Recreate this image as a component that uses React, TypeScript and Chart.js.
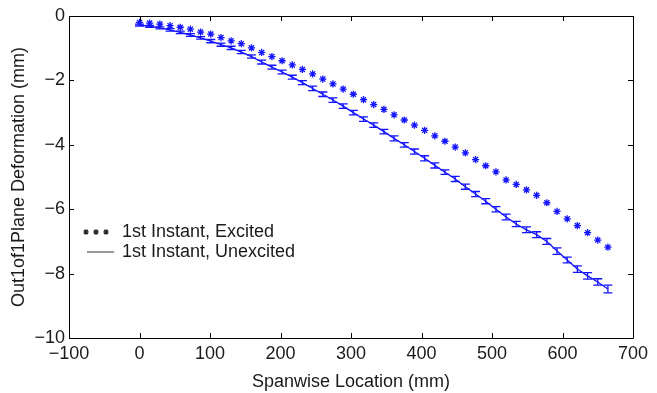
import React, { useEffect, useRef } from 'react';
import { Chart, registerables } from 'chart.js';

Chart.register(...registerables);

const spanwise = [
  0, 14.4, 28.9, 43.3, 57.8, 72.2, 86.7, 101.1, 115.6, 130, 144.4, 158.9, 173.3, 187.8, 202.2, 216.7,
  231.1, 245.6, 260, 274.4, 288.9, 303.3, 317.8, 332.2, 346.7, 361.1, 375.6, 390, 404.4, 418.9, 433.3,
  447.8, 462.2, 476.7, 491.1, 505.6, 520, 534.4, 548.9, 563.3, 577.8, 592.2, 606.7, 621.1, 635.6, 650, 664.4,
];

const excited = [
  -0.2, -0.22, -0.25, -0.3, -0.35, -0.41, -0.5, -0.56, -0.67, -0.77, -0.86, -0.99, -1.13, -1.26, -1.39, -1.52,
  -1.66, -1.8, -1.96, -2.11, -2.27, -2.43, -2.6, -2.75, -2.9, -3.07, -3.23, -3.39, -3.55, -3.72, -3.89,
  -4.07, -4.25, -4.46, -4.65, -4.84, -5.09, -5.23, -5.4, -5.57, -5.8, -6.07, -6.3, -6.51, -6.73, -6.96, -7.18,
];

const unexcited = [
  -0.28, -0.32, -0.37, -0.43, -0.51, -0.59, -0.68, -0.78, -0.89, -0.99, -1.12, -1.26, -1.43, -1.59, -1.74, -1.9,
  -2.07, -2.25, -2.43, -2.61, -2.8, -3.0, -3.2, -3.39, -3.59, -3.8, -4.0, -4.21, -4.42, -4.64, -4.85,
  -5.06, -5.3, -5.53, -5.75, -6.0, -6.24, -6.46, -6.64, -6.79, -7.0, -7.3, -7.58, -7.86, -8.07, -8.26, -8.48,
];

const unexcitedErr = [
  0.03, 0.03, 0.03, 0.04, 0.04, 0.04, 0.04, 0.05, 0.05, 0.05, 0.05, 0.05, 0.06, 0.06, 0.06, 0.06,
  0.06, 0.07, 0.07, 0.07, 0.07, 0.07, 0.07, 0.07, 0.07, 0.08, 0.07, 0.08, 0.08, 0.08, 0.07,
  0.08, 0.08, 0.08, 0.08, 0.08, 0.09, 0.08, 0.09, 0.09, 0.09, 0.1, 0.09, 0.1, 0.1, 0.1, 0.12,
];

const legendLabels = ['1st Instant, Excited', '1st Instant, Unexcited'];
const xTitle = 'Spanwise Location (mm)';
const yTitle = 'Out1of1Plane Deformation (mm)';

const FONT = '"Liberation Sans", Arial, Helvetica, sans-serif';
const BLUE = '#1414ff';
const TEXT = '#1a1a1a';

const fmt = (v: number) => (v < 0 ? '\u2212' + Math.abs(v) : String(v));

const errorBarPlugin = {
  id: 'errorBars',
  afterDatasetsDraw(chart: any) {
    const { ctx, scales } = chart;
    const xs = scales.x;
    const ys = scales.y;
    ctx.save();
    ctx.strokeStyle = BLUE;
    ctx.lineWidth = 1.3;
    for (let i = 0; i < spanwise.length; i++) {
      const px = xs.getPixelForValue(spanwise[i]);
      const top = ys.getPixelForValue(unexcited[i] + unexcitedErr[i]);
      const bot = ys.getPixelForValue(unexcited[i] - unexcitedErr[i]);
      const hw = 4.5;
      ctx.beginPath();
      ctx.moveTo(px, top);
      ctx.lineTo(px, bot);
      ctx.moveTo(px - hw, top);
      ctx.lineTo(px + hw, top);
      ctx.moveTo(px - hw, bot);
      ctx.lineTo(px + hw, bot);
      ctx.stroke();
    }
    ctx.restore();
  },
};

const framePlugin = {
  id: 'frame',
  afterDraw(chart: any) {
    const { ctx, chartArea, scales } = chart;
    const { left, right, top, bottom } = chartArea;
    ctx.save();
    ctx.strokeStyle = '#000';
    ctx.lineWidth = 1;
    ctx.beginPath();
    ctx.rect(Math.round(left) + 0.5, Math.round(top) + 0.5, Math.round(right - left), Math.round(bottom - top));
    ctx.stroke();
    const tl = 5;
    ctx.beginPath();
    scales.x.ticks.forEach((t: any) => {
      const px = Math.round(scales.x.getPixelForValue(t.value)) + 0.5;
      ctx.moveTo(px, bottom);
      ctx.lineTo(px, bottom - tl);
      ctx.moveTo(px, top);
      ctx.lineTo(px, top + tl);
    });
    scales.y.ticks.forEach((t: any) => {
      const py = Math.round(scales.y.getPixelForValue(t.value)) + 0.5;
      ctx.moveTo(left, py);
      ctx.lineTo(left + tl, py);
      ctx.moveTo(right, py);
      ctx.lineTo(right - tl, py);
    });
    ctx.stroke();

    // legend
    ctx.font = `18px ${FONT}`;
    ctx.textBaseline = 'middle';
    ctx.textAlign = 'left';
    ctx.fillStyle = TEXT;
    const lx = 122;
    const ly1 = 232;
    const ly2 = 252;
    ctx.fillText(legendLabels[0], lx, ly1);
    ctx.fillText(legendLabels[1], lx, ly2);
    ctx.strokeStyle = '#222';
    ctx.lineWidth = 1.2;
    [86, 96, 106].forEach((cx) => {
      const r = 2.8;
      ctx.beginPath();
      for (let k = 0; k < 4; k++) {
        const a = (Math.PI / 4) * k;
        ctx.moveTo(cx - r * Math.cos(a), ly1 - r * Math.sin(a));
        ctx.lineTo(cx + r * Math.cos(a), ly1 + r * Math.sin(a));
      }
      ctx.stroke();
    });
    ctx.strokeStyle = '#777';
    ctx.lineWidth = 1.5;
    ctx.beginPath();
    ctx.moveTo(87, ly2);
    ctx.lineTo(114, ly2);
    ctx.stroke();
    ctx.restore();
  },
};

export default function App() {
  const ref = useRef<HTMLCanvasElement | null>(null);

  useEffect(() => {
    if (!ref.current) return;
    const chart = new Chart(ref.current, {
      type: 'scatter',
      data: {
        datasets: [
          {
            label: legendLabels[0],
            data: spanwise.map((x, i) => ({ x, y: excited[i] })),
            showLine: false,
            pointStyle: 'star',
            radius: 3.6,
            borderColor: BLUE,
            backgroundColor: BLUE,
            borderWidth: 1.3,
          },
          {
            label: legendLabels[1],
            data: spanwise.map((x, i) => ({ x, y: unexcited[i] })),
            showLine: true,
            borderColor: BLUE,
            borderWidth: 1.3,
            pointRadius: 0,
            tension: 0,
          },
        ],
      },
      options: {
        animation: false,
        responsive: false,
        devicePixelRatio: 1,
        layout: { padding: { top: 16, right: 24, left: 0, bottom: 0 } },
        plugins: { legend: { display: false }, tooltip: { enabled: false } },
        scales: {
          x: {
            type: 'linear',
            min: -100,
            max: 700,
            grid: { display: false, drawTicks: false },
            border: { display: false },
            ticks: {
              stepSize: 100,
              padding: 5,
              color: TEXT,
              font: { family: FONT, size: 18 },
              callback: (v: any) => fmt(Number(v)),
              maxRotation: 0,
            },
            title: {
              display: true,
              text: xTitle,
              color: TEXT,
              font: { family: FONT, size: 18 },
              padding: { top: 1, bottom: 0 },
            },
            afterFit: (s: any) => {
              s.height = 55;
            },
          },
          y: {
            type: 'linear',
            min: -10,
            max: 0,
            grid: { display: false, drawTicks: false },
            border: { display: false },
            ticks: {
              stepSize: 2,
              padding: 4,
              color: TEXT,
              font: { family: FONT, size: 18 },
              callback: (v: any) => fmt(Number(v)),
            },
            title: {
              display: true,
              text: yTitle,
              color: TEXT,
              font: { family: FONT, size: 18 },
              padding: { top: 8, bottom: 0 },
            },
            afterFit: (s: any) => {
              s.width = 69;
            },
          },
        },
      },
      plugins: [errorBarPlugin, framePlugin],
    } as any);
    return () => chart.destroy();
  }, []);

  return (
    <div style={{ position: 'absolute', left: 0, top: 0, width: 657, height: 393, background: '#fff' }}>
      <canvas ref={ref} width={657} height={393} style={{ display: 'block' }} />
    </div>
  );
}
